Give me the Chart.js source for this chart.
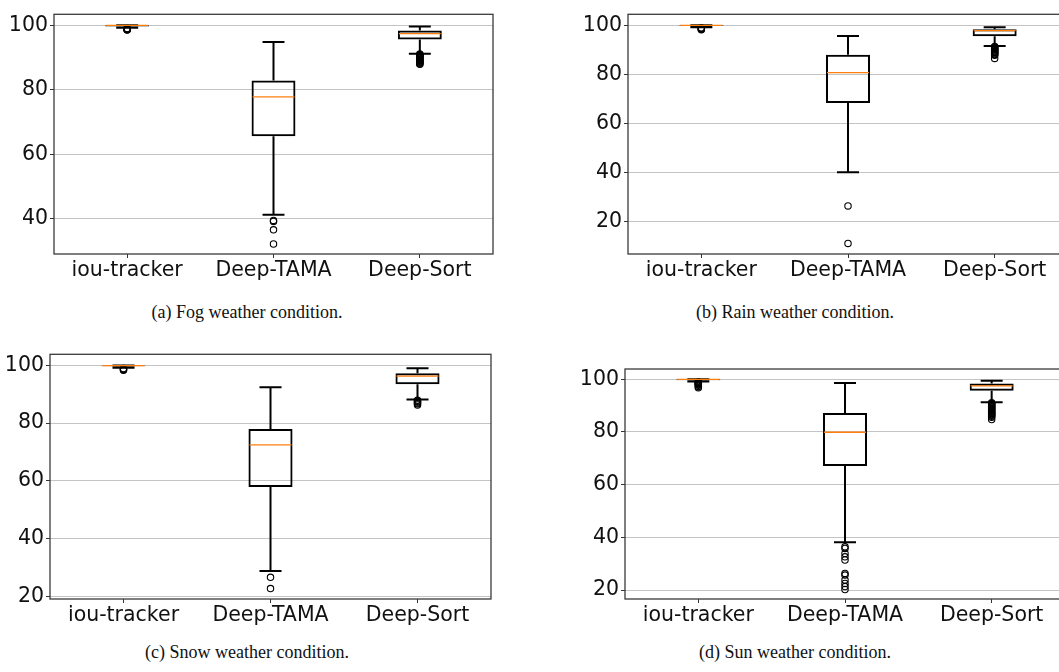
<!DOCTYPE html>
<html>
<head>
<meta charset="utf-8">
<script src="https://cdn.jsdelivr.net/npm/chart.js@4.4.1/dist/chart.umd.min.js"></script>
<style>
html, body { margin: 0; padding: 0; background: #fff; overflow: hidden; width: 1059px; height: 672px; }
canvas { position: absolute; }
.cap { position: absolute; width: 400px; text-align: center; white-space: nowrap;
       font-family: 'Liberation Serif', 'Times New Roman', serif; font-size: 18px; color: #111; }
</style>
</head>
<body>
<canvas id="fogCanvas" width="500" height="290" style="left:0;top:0"></canvas>
<canvas id="rainCanvas" width="540" height="290" style="left:540px;top:0"></canvas>
<canvas id="snowCanvas" width="500" height="295" style="left:0;top:340px"></canvas>
<canvas id="sunCanvas" width="540" height="295" style="left:540px;top:340px"></canvas>
<div class="cap" style="left:47px;top:302px">(a) Fog weather condition.</div>
<div class="cap" style="left:595px;top:302px">(b) Rain weather condition.</div>
<div class="cap" style="left:47px;top:642px">(c) Snow weather condition.</div>
<div class="cap" style="left:595px;top:642px">(d) Sun weather condition.</div>
<script>
const trackers = ['iou-tracker', 'Deep-TAMA', 'Deep-Sort'];

// fog
const fogLow = [99.2, 41.3, 91.2];
const fogQ1 = [99.6, 65.6, 95.6];
const fogMedian = [99.95, 77.8, 97.4];
const fogQ3 = [100, 82.9, 98.4];
const fogHigh = [100, 94.8, 99.6];
const fogOutliers = [[99.0, 98.9, 98.8, 98.7, 98.6, 98.5], [39.5, 39.2, 36.6, 32.2],
    [91.1, 90.9, 90.7, 90.5, 90.3, 90.1, 89.9, 89.7, 89.5, 89.3, 89.1, 88.9, 88.7, 88.5, 88.3, 88.1, 87.9]];
const fogTicks = [40, 60, 80, 100];
const fogRange = [29.1, 103.4];

// rain
const rainLow = [99.2, 40.1, 91.6];
const rainQ1 = [99.7, 68.3, 95.5];
const rainMedian = [99.95, 80.7, 97.8];
const rainQ3 = [100, 88.0, 98.4];
const rainHigh = [100, 95.6, 99.2];
const rainOutliers = [[99.0, 98.8, 98.6, 98.4, 98.2], [26.3, 11.0],
    [91.4, 91.1, 90.8, 90.5, 90.2, 89.9, 89.6, 89.3, 89.0, 88.7, 88.4, 88.1, 87.8, 86.5]];
const rainTicks = [20, 40, 60, 80, 100];
const rainRange = [6.7, 104.5];

// snow
const snowLow = [99.2, 28.8, 88.2];
const snowQ1 = [99.7, 57.9, 93.5];
const snowMedian = [99.95, 72.5, 96.3];
const snowQ3 = [100, 78.0, 97.3];
const snowHigh = [100, 92.4, 99.0];
const snowOutliers = [[98.9, 98.7, 98.5, 98.3], [26.6, 22.7], [87.9, 87.6, 87.3, 87.0, 86.7, 86.3]];
const snowTicks = [20, 40, 60, 80, 100];
const snowRange = [19.1, 103.85];

// sun
const sunLow = [99.2, 38.1, 91.3];
const sunQ1 = [99.6, 67.1, 95.6];
const sunMedian = [99.95, 79.9, 97.5];
const sunQ3 = [100, 87.2, 98.4];
const sunHigh = [100, 98.6, 99.4];
const sunOutliers = [[99.0, 98.8, 98.6, 98.4, 98.2, 98.0, 97.7, 97.3, 96.8],
    [36.4, 35.8, 33.9, 32.6, 31.4, 26.3, 25.7, 23.8, 22.5, 21.3, 20.2],
    [91.1, 90.8, 90.5, 90.2, 89.9, 89.6, 89.3, 89.0, 88.7, 88.4, 88.1, 87.8, 87.5, 87.2, 86.9, 86.6, 86.3, 86.0, 85.6, 84.7]];
const sunTicks = [20, 40, 60, 80, 100];
const sunRange = [16.6, 103.9];

const panels = [
    { id: 'fogCanvas', low: fogLow, q1: fogQ1, med: fogMedian, q3: fogQ3, high: fogHigh, out: fogOutliers, ticks: fogTicks, range: fogRange,
      pad: { top: 11, right: 7 }, yWidth: 54 },
    { id: 'rainCanvas', low: rainLow, q1: rainQ1, med: rainMedian, q3: rainQ3, high: rainHigh, out: rainOutliers, ticks: rainTicks, range: rainRange,
      pad: { top: 7, right: 12 }, yWidth: 88 },
    { id: 'snowCanvas', low: snowLow, q1: snowQ1, med: snowMedian, q3: snowQ3, high: snowHigh, out: snowOutliers, ticks: snowTicks, range: snowRange,
      pad: { top: 10, right: 9 }, yWidth: 50 },
    { id: 'sunCanvas', low: sunLow, q1: sunQ1, med: sunMedian, q3: sunQ3, high: sunHigh, out: sunOutliers, ticks: sunTicks, range: sunRange,
      pad: { top: 29, right: 15 }, yWidth: 85 },
];

// whiskers, caps, medians and the frame, all placed through the chart scales
const makeBoxPlugin = (low, med, high) => ({
    id: 'boxParts',
    afterDatasetsDraw(chart) {
        const { ctx, scales: { y } } = chart;
        const boxes = chart.getDatasetMeta(0).data;
        ctx.save();
        boxes.forEach((box, i) => {
            const cx = box.x;
            const half = box.width / 2;
            const cap = box.width / 4;
            const yLow = y.getPixelForValue(low[i]);
            const yHigh = y.getPixelForValue(high[i]);
            const yMed = y.getPixelForValue(med[i]);
            ctx.strokeStyle = '#000';
            ctx.lineWidth = 2;
            ctx.beginPath();
            ctx.moveTo(cx, Math.max(box.base, box.y));
            ctx.lineTo(cx, yLow);
            ctx.moveTo(cx, Math.min(box.base, box.y));
            ctx.lineTo(cx, yHigh);
            ctx.moveTo(cx - cap, yLow);
            ctx.lineTo(cx + cap, yLow);
            ctx.moveTo(cx - cap, yHigh);
            ctx.lineTo(cx + cap, yHigh);
            ctx.stroke();
            ctx.strokeStyle = '#ff7f0e';
            ctx.lineWidth = 1.3;
            ctx.beginPath();
            ctx.moveTo(cx - half + 1, yMed);
            ctx.lineTo(cx + half - 1, yMed);
            ctx.stroke();
        });
        ctx.restore();
    },
    afterDraw(chart) {
        const { ctx, chartArea: a } = chart;
        ctx.save();
        ctx.strokeStyle = '#3a3a3a';
        ctx.lineWidth = 1.3;
        ctx.strokeRect(a.left, a.top, a.right - a.left, a.bottom - a.top);
        ctx.restore();
    }
});

const tickFont = { family: 'DejaVu Sans', size: 20.5 };

panels.forEach(p => {
    const outlierPoints = [];
    p.out.forEach((vals, i) => vals.forEach(v => outlierPoints.push({ x: trackers[i], y: v })));

    new Chart(document.getElementById(p.id), {
        type: 'bar',
        data: {
            labels: trackers,
            datasets: [{
                data: trackers.map((t, i) => [p.q1[i], p.q3[i]]),
                backgroundColor: 'rgba(0,0,0,0)',
                borderColor: '#000',
                borderWidth: 2,
                borderSkipped: false,
                barPercentage: 0.3,
                categoryPercentage: 1
            }, {
                type: 'line',
                data: outlierPoints,
                showLine: false,
                pointRadius: 3.2,
                pointBorderWidth: 1.1,
                pointBorderColor: '#000',
                pointBackgroundColor: 'rgba(0,0,0,0)'
            }]
        },
        options: {
            responsive: false,
            animation: false,
            layout: { padding: { top: p.pad.top, right: p.pad.right, left: 0, bottom: 0 } },
            plugins: { legend: { display: false }, tooltip: { enabled: false } },
            scales: {
                x: {
                    grid: { offset: false, drawOnChartArea: false, tickLength: 4, tickColor: '#333' },
                    border: { display: false },
                    ticks: { font: tickFont, color: '#111', padding: 0, maxRotation: 0 },
                    afterFit: s => { s.height = 36; }
                },
                y: {
                    min: p.range[0],
                    max: p.range[1],
                    grid: { color: '#c4c4c4', lineWidth: 1, tickLength: 4, tickColor: '#333' },
                    border: { display: false },
                    ticks: { font: tickFont, color: '#111', padding: 2 },
                    afterBuildTicks: s => { s.ticks = p.ticks.map(v => ({ value: v })); },
                    afterFit: s => { s.width = p.yWidth; }
                }
            }
        },
        plugins: [makeBoxPlugin(p.low, p.med, p.high)]
    });
});
</script>
</body>
</html>
